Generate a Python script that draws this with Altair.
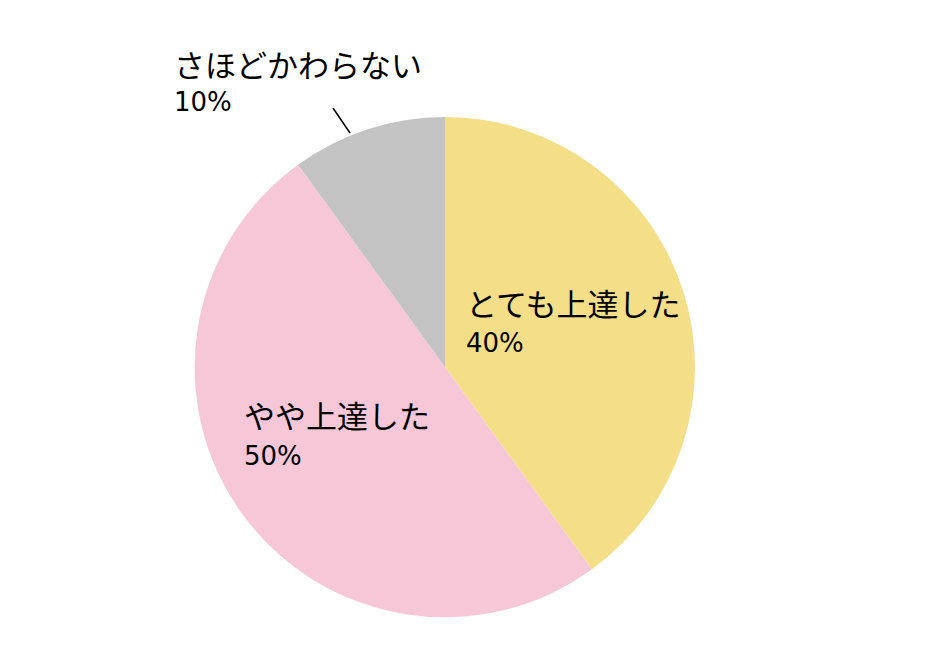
import altair as alt
import pandas as pd

categories = ["とても上達した", "やや上達した", "さほどかわらない"]
shares = [40, 50, 10]
colors = ["#F4DE88", "#F6C8D7", "#C3C3C3"]

JP_FONT = "Noto Sans CJK JP"
NUM_FONT = "DejaVu Sans"

df = pd.DataFrame({"category": categories, "share": shares, "rank": [0, 1, 2]})

base = alt.Chart(df)

pie = base.mark_arc(outerRadius=250, x=437, y=359).encode(
    theta=alt.Theta("share:Q", stack=True),
    color=alt.Color("category:N", scale=alt.Scale(domain=categories, range=colors), legend=None),
    order=alt.Order("rank:Q"),
)

# label anchors (chart pixels) for each category: left x, name line y, percent line y
anchors = {
    "とても上達した": (458, 299, 336),
    "やや上達した": (236, 411, 449),
    "さほどかわらない": (166, 60, 95),
}

labels = []
for cat, (lx, ny, py) in anchors.items():
    sel = base.transform_filter(alt.datum.category == cat)
    labels.append(
        sel.mark_text(align="left", baseline="middle", font=JP_FONT, fontSize=31, color="#000")
        .encode(text="category:N", x=alt.value(lx), y=alt.value(ny))
    )
    labels.append(
        sel.transform_calculate(pct="datum.share + '%'")
        .mark_text(align="left", baseline="middle", font=NUM_FONT, fontSize=26, color="#000")
        .encode(text="pct:N", x=alt.value(lx), y=alt.value(py))
    )

leader = base.transform_filter(alt.datum.category == "さほどかわらない").mark_rule(
    color="#000", strokeWidth=1.5
).encode(x=alt.value(325), y=alt.value(100), x2=alt.value(342), y2=alt.value(125))

chart = alt.layer(pie, *labels, leader).properties(
    width=905, height=630, autosize=alt.AutoSizeParams(type="none"), padding=0,
    background="white",
).configure_view(stroke=None)

chart.save("out.html", embed_options={"renderer": "svg", "actions": False})
